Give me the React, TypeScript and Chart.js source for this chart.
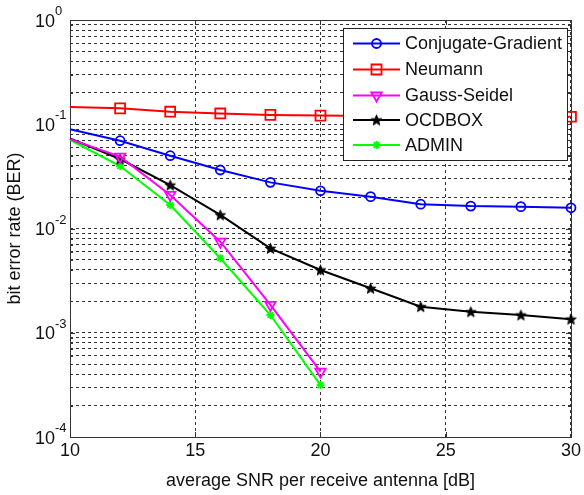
import React, { useEffect, useRef } from 'react';
import { Chart, registerables } from 'chart.js';

Chart.register(...registerables);

// ---- data ----
const snr = [10, 12, 14, 16, 18, 20, 22, 24, 26, 28, 30];
const cgBer = [0.0894, 0.0695, 0.0499, 0.0364, 0.0277, 0.023, 0.0202, 0.0171, 0.0164, 0.0162, 0.0158];
const neumannBer = [0.146, 0.142, 0.132, 0.127, 0.123, 0.121, 0.12, 0.119, 0.119, 0.118, 0.118];
const gsBer = [0.072, 0.0489, 0.021, 0.00748, 0.00185, 0.000423];
const ocdboxBer = [0.073, 0.0464, 0.0261, 0.0135, 0.00645, 0.004, 0.00267, 0.00178, 0.00159, 0.00148, 0.00135];
const adminBer = [0.071, 0.0397, 0.0168, 0.00518, 0.00148, 0.000315];

const seriesNames = ['Conjugate-Gradient', 'Neumann', 'Gauss-Seidel', 'OCDBOX', 'ADMIN'];
const seriesColors = ['#0000ff', '#ff0000', '#ff00ff', '#000000', '#00ff00'];
const xTicks = [10, 15, 20, 25, 30];
const yDecades = [-4, -3, -2, -1, 0];
const xTitle = 'average SNR per receive antenna [dB]';
const yTitle = 'bit error rate (BER)';

const FONT = '"Liberation Sans", Arial, Helvetica, sans-serif';
const TEXT = '#111111';
const FRAME = '#333333';
const GRID = '#333333';

function pentagramPath(ctx: CanvasRenderingContext2D, cx: number, cy: number, r: number) {
  const ri = r * 0.42;
  ctx.beginPath();
  for (let i = 0; i < 10; i++) {
    const rad = i % 2 === 0 ? r : ri;
    const a = -Math.PI / 2 + (i * Math.PI) / 5;
    const px = cx + rad * Math.cos(a);
    const py = cy + rad * Math.sin(a);
    if (i === 0) ctx.moveTo(px, py);
    else ctx.lineTo(px, py);
  }
  ctx.closePath();
}

function makePentagram(r: number, color: string) {
  const size = Math.ceil(r * 2 + 2);
  const c = document.createElement('canvas');
  c.width = size;
  c.height = size;
  const ctx = c.getContext('2d')!;
  pentagramPath(ctx, size / 2, size / 2 + 0.5, r);
  ctx.fillStyle = color;
  ctx.fill();
  ctx.strokeStyle = color;
  ctx.lineWidth = 1;
  ctx.stroke();
  return c;
}

function radii(n: number, r: number) {
  return Array.from({ length: n }, (_, i) => (i === 0 ? 0 : r));
}

function drawLegendMarker(ctx: CanvasRenderingContext2D, idx: number, x: number, y: number, star: HTMLCanvasElement) {
  const color = seriesColors[idx];
  ctx.save();
  ctx.strokeStyle = color;
  ctx.fillStyle = color;
  ctx.lineWidth = 1.8;
  ctx.setLineDash([]);
  ctx.beginPath();
  if (idx === 0) {
    ctx.arc(x, y, 4.5, 0, Math.PI * 2);
    ctx.stroke();
  } else if (idx === 1) {
    ctx.rect(x - 5, y - 5, 10, 10);
    ctx.stroke();
  } else if (idx === 2) {
    const r = 6;
    let rad = Math.PI;
    ctx.moveTo(x + Math.sin(rad) * r, y - Math.cos(rad) * r);
    rad += (2 * Math.PI) / 3;
    ctx.lineTo(x + Math.sin(rad) * r, y - Math.cos(rad) * r);
    rad += (2 * Math.PI) / 3;
    ctx.lineTo(x + Math.sin(rad) * r, y - Math.cos(rad) * r);
    ctx.closePath();
    ctx.stroke();
  } else if (idx === 3) {
    ctx.drawImage(star, x - star.width / 2, y - star.height / 2);
  } else {
    const r = 4;
    ctx.moveTo(x - r, y);
    ctx.lineTo(x + r, y);
    ctx.moveTo(x, y - r);
    ctx.lineTo(x, y + r);
    const d = r * Math.SQRT1_2;
    ctx.moveTo(x - d, y - d);
    ctx.lineTo(x + d, y + d);
    ctx.moveTo(x - d, y + d);
    ctx.lineTo(x + d, y - d);
    ctx.stroke();
  }
  ctx.restore();
}

export default function App() {
  const ref = useRef<HTMLCanvasElement | null>(null);

  useEffect(() => {
    document.body.style.margin = '0';
    const canvas = ref.current;
    if (!canvas) return;
    const star = makePentagram(5.5, '#000000');

    const yTickValues: number[] = [];
    yDecades.forEach((d) => {
      if (d === 0) {
        yTickValues.push(1);
        return;
      }
      for (let k = 1; k <= 9; k++) yTickValues.push(Number((k * Math.pow(10, d)).toPrecision(6)));
    });

    const pts = (vals: number[]) => vals.map((v, i) => ({ x: snr[i], y: v }));

    const framePlugin = {
      id: 'frame',
      beforeDatasetsDraw(chart: any) {
        const { ctx, chartArea: a, scales } = chart;
        ctx.save();
        ctx.setLineDash([]);
        ctx.strokeStyle = FRAME;
        ctx.lineWidth = 1;
        // tick marks
        ctx.beginPath();
        xTicks.forEach((v) => {
          const px = Math.round(scales.x.getPixelForValue(v)) + 0.5;
          ctx.moveTo(px, a.bottom);
          ctx.lineTo(px, a.bottom - 5);
          ctx.moveTo(px, a.top);
          ctx.lineTo(px, a.top + 5);
        });
        yTickValues.forEach((v) => {
          const py = Math.round(scales.y.getPixelForValue(v)) + 0.5;
          const len = Math.abs(Math.log10(v) - Math.round(Math.log10(v))) < 1e-9 ? 5 : 3;
          ctx.moveTo(a.left, py);
          ctx.lineTo(a.left + len, py);
          ctx.moveTo(a.right, py);
          ctx.lineTo(a.right - len, py);
        });
        ctx.stroke();
        ctx.strokeRect(Math.round(a.left) + 0.5, Math.round(a.top) + 0.5, Math.round(a.right - a.left), Math.round(a.bottom - a.top));
        ctx.restore();
      },
    };

    const yLabelPlugin = {
      id: 'ylabels',
      afterDraw(chart: any) {
        const { ctx, scales } = chart;
        ctx.save();
        ctx.fillStyle = TEXT;
        ctx.textAlign = 'left';
        ctx.textBaseline = 'alphabetic';
        yDecades.forEach((d) => {
          const y = scales.y.getPixelForValue(Math.pow(10, d));
          ctx.font = `18px ${FONT}`;
          const base = '10';
          const w = ctx.measureText(base).width;
          ctx.fillText(base, 35, y + 6.5);
          ctx.font = `13px ${FONT}`;
          ctx.fillText(String(d), 35 + w, y - 5);
        });
        ctx.restore();
      },
    };

    const legendPlugin = {
      id: 'boxlegend',
      afterDraw(chart: any) {
        const { ctx } = chart;
        const bx = 343.5, by = 28.5, bw = 224, bh = 132;
        ctx.save();
        ctx.setLineDash([]);
        ctx.fillStyle = '#ffffff';
        ctx.fillRect(bx, by, bw, bh);
        ctx.strokeStyle = '#222222';
        ctx.lineWidth = 1;
        ctx.strokeRect(bx, by, bw, bh);
        const rows = [43.5, 69.5, 95.5, 120, 145];
        seriesNames.forEach((name, i) => {
          const y = rows[i];
          ctx.strokeStyle = seriesColors[i];
          ctx.lineWidth = 2;
          ctx.beginPath();
          ctx.moveTo(353, y);
          ctx.lineTo(400, y);
          ctx.stroke();
          drawLegendMarker(ctx, i, 376.5, y, star);
          ctx.fillStyle = TEXT;
          ctx.font = `18px ${FONT}`;
          ctx.textAlign = 'left';
          ctx.textBaseline = 'middle';
          ctx.fillText(name, 405, y + 1);
        });
        ctx.restore();
      },
    };

    const common = {
      borderWidth: 2,
      pointBorderWidth: 1.8,
      pointBackgroundColor: 'rgba(0,0,0,0)',
      tension: 0,
      clip: false as any,
      fill: false,
    };

    const chart = new Chart(canvas, {
      type: 'line',
      data: {
        datasets: [
          { ...common, label: seriesNames[0], data: pts(cgBer), borderColor: seriesColors[0], pointBorderColor: seriesColors[0], pointStyle: 'circle', pointRadius: radii(cgBer.length, 4.5) },
          { ...common, label: seriesNames[1], data: pts(neumannBer), borderColor: seriesColors[1], pointBorderColor: seriesColors[1], pointStyle: 'rect', pointRadius: radii(neumannBer.length, 7) },
          { ...common, label: seriesNames[2], data: pts(gsBer), borderColor: seriesColors[2], pointBorderColor: seriesColors[2], pointStyle: 'triangle', rotation: 180, pointRotation: 180, pointRadius: radii(gsBer.length, 6) } as any,
          { ...common, label: seriesNames[3], data: pts(ocdboxBer), borderColor: seriesColors[3], pointBorderColor: seriesColors[3], pointStyle: star as any, pointRadius: radii(ocdboxBer.length, 5) },
          { ...common, label: seriesNames[4], data: pts(adminBer), borderColor: seriesColors[4], pointBorderColor: seriesColors[4], pointStyle: 'star', pointRadius: radii(adminBer.length, 4) },
        ],
      },
      options: {
        animation: false,
        responsive: false,
        devicePixelRatio: 1,
        layout: { padding: { top: 20, right: 10, left: 0, bottom: 0 } },
        plugins: { legend: { display: false }, tooltip: { enabled: false } },
        scales: {
          x: {
            type: 'linear',
            min: 10,
            max: 30,
            afterBuildTicks: (s: any) => {
              s.ticks = xTicks.map((v) => ({ value: v }));
            },
            afterFit: (s: any) => {
              s.height = 58;
            },
            ticks: {
              color: TEXT,
              font: { family: FONT, size: 18 },
              padding: 3,
              autoSkip: false,
              maxRotation: 0,
              callback: (v: any) => String(v),
            },
            grid: { color: GRID, lineWidth: 1, drawTicks: false },
            border: { display: false, dash: [3, 3] },
            title: { display: true, text: xTitle, color: TEXT, font: { family: FONT, size: 18 }, padding: { top: 0, bottom: 3 } },
          },
          y: {
            type: 'logarithmic',
            min: 1e-4,
            max: 1,
            afterBuildTicks: (s: any) => {
              s.ticks = yTickValues.map((v) => ({ value: v }));
            },
            afterFit: (s: any) => {
              s.width = 70;
            },
            ticks: { autoSkip: false, callback: () => '' },
            grid: { color: GRID, lineWidth: 1, drawTicks: false },
            border: { display: false, dash: [3, 3] },
            title: { display: true, text: yTitle, color: TEXT, font: { family: FONT, size: 18 }, padding: { top: 4, bottom: 0 } },
          },
        },
      } as any,
      plugins: [framePlugin, yLabelPlugin, legendPlugin],
    });

    return () => chart.destroy();
  }, []);

  return (
    <div style={{ width: 584, height: 495, background: '#ffffff' }}>
      <canvas ref={ref} width={584} height={495} />
    </div>
  );
}
